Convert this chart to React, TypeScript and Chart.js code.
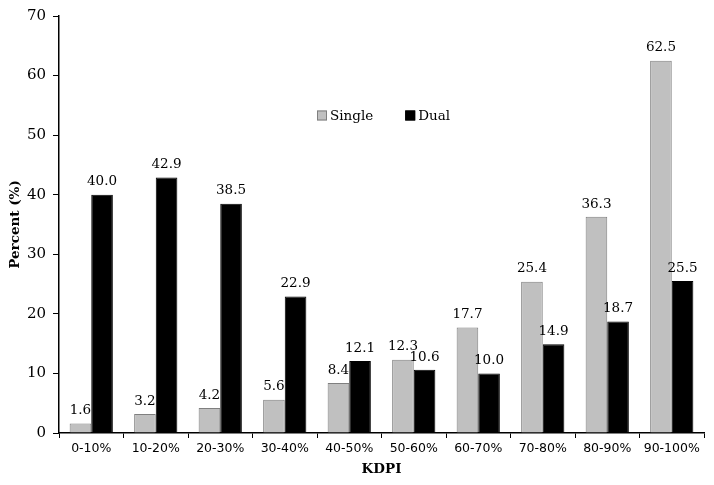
import React, { useEffect, useRef } from "react";
import { Chart, registerables } from "chart.js";

Chart.register(...registerables);

const categories = ["0-10%", "10-20%", "20-30%", "30-40%", "40-50%", "50-60%", "60-70%", "70-80%", "80-90%", "90-100%"];
const singleValues = [1.6, 3.2, 4.2, 5.6, 8.4, 12.3, 17.7, 25.4, 36.3, 62.5];
const dualValues = [40.0, 42.9, 38.5, 22.9, 12.1, 10.6, 10.0, 14.9, 18.7, 25.5];
const seriesNames = ["Single", "Dual"];
const yTitle = "Percent (%)";
const xTitle = "KDPI";

const SERIF = "'DejaVu Serif', serif";
const SANS = "'DejaVu Sans', sans-serif";

const labelPlugin = {
  id: "valueLabels",
  afterDatasetsDraw(chart: any) {
    const ctx = chart.ctx;
    ctx.save();
    ctx.font = `13.5px ${SERIF}`;
    ctx.fillStyle = "#000";
    ctx.textAlign = "center";
    ctx.textBaseline = "bottom";
    chart.data.datasets.forEach((ds: any, i: number) => {
      const meta = chart.getDatasetMeta(i);
      meta.data.forEach((bar: any, j: number) => {
        ctx.fillText(Number(ds.data[j]).toFixed(1), bar.x, bar.y - 6);
      });
    });
    ctx.restore();
  },
};

const legendPlugin = {
  id: "innerLegend",
  afterDraw(chart: any) {
    const ctx = chart.ctx;
    const area = chart.chartArea;
    const y = chart.scales.y.getPixelForValue(53.3);
    let x = area.left + 258;
    ctx.save();
    ctx.font = `13.5px ${SERIF}`;
    ctx.textBaseline = "middle";
    ctx.textAlign = "left";
    chart.data.datasets.forEach((ds: any) => {
      ctx.fillStyle = ds.backgroundColor;
      ctx.fillRect(x, y - 5, 10, 10);
      ctx.strokeStyle = ds.borderColor;
      ctx.lineWidth = 1;
      ctx.strokeRect(x + 0.5, y - 4.5, 9, 9);
      ctx.fillStyle = "#000";
      ctx.fillText(ds.label, x + 13, y + 1);
      x += 13 + ctx.measureText(ds.label).width + 32;
    });
    ctx.restore();
  },
};

export default function App() {
  const ref = useRef<HTMLCanvasElement>(null);
  useEffect(() => {
    document.body.style.margin = "0";
    const chart = new Chart(ref.current!, {
      type: "bar",
      data: {
        labels: categories,
        datasets: [
          {
            label: seriesNames[0],
            data: singleValues,
            backgroundColor: "#c0c0c0",
            borderColor: "#7f7f7f",
            borderWidth: 1,
          },
          {
            label: seriesNames[1],
            data: dualValues,
            backgroundColor: "#000000",
            borderColor: "#000000",
            borderWidth: 1,
          },
        ],
      },
      options: {
        animation: false,
        responsive: false,
        layout: { padding: { left: 0, right: 10, top: 14, bottom: 0 } },
        datasets: { bar: { categoryPercentage: 0.67, barPercentage: 1.0 } },
        plugins: { legend: { display: false }, tooltip: { enabled: false } },
        scales: {
          x: {
            grid: { offset: true, drawOnChartArea: false, drawTicks: true, tickLength: 5, color: "#000" },
            border: { display: true, color: "#000", width: 1.5 },
            ticks: { color: "#000", font: { family: SANS, size: 12.5 }, padding: 3, maxRotation: 0, autoSkip: false },
            title: { display: true, text: xTitle, color: "#000", font: { family: SERIF, size: 13.5, weight: "bold" }, padding: { top: 0, bottom: 7 } },
            afterFit(scale: any) { scale.height = 52; },
          },
          y: {
            min: 0,
            max: 70,
            ticks: { stepSize: 10, color: "#000", font: { family: SERIF, size: 15 }, padding: 7 },
            grid: { drawOnChartArea: false, drawTicks: true, tickLength: 6, color: "#000" },
            border: { display: true, color: "#000", width: 1.5 },
            title: { display: true, text: yTitle, color: "#000", font: { family: SERIF, size: 13.5, weight: "bold" }, padding: { top: 7, bottom: 0 } },
            afterFit(scale: any) { scale.width = 59; },
          },
        },
      },
      plugins: [labelPlugin, legendPlugin],
    });
    return () => chart.destroy();
  }, []);
  return <canvas ref={ref} width={714} height={485} style={{ display: "block" }} />;
}
